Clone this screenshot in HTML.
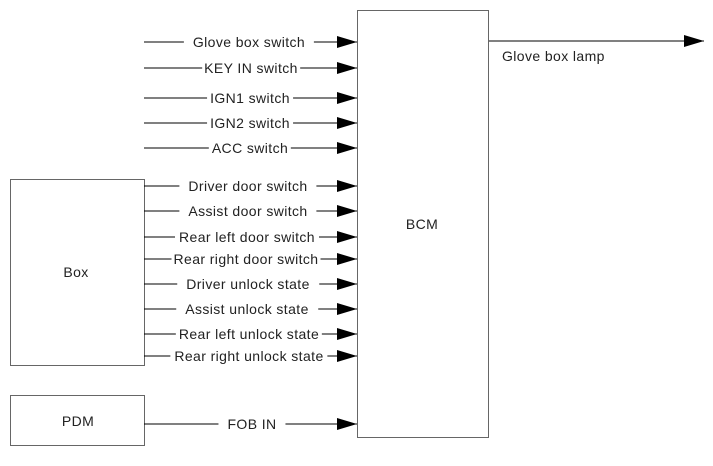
<!DOCTYPE html>
<html><head><style>
body{margin:0;background:#fff}
#w{position:relative;width:713px;height:466px;overflow:hidden}
svg{display:block;position:absolute;left:0;top:0}
.l{position:absolute;transform:translate(-50%,-50%);background:#fff;white-space:nowrap;font:14px "Liberation Sans",Arial,sans-serif;letter-spacing:0.4px;color:#222;line-height:16px}
</style></head><body><div id="w">
<svg width="713" height="466" xmlns="http://www.w3.org/2000/svg" font-family="Liberation Sans, Arial, sans-serif" font-size="14" letter-spacing="0.4">
<defs><marker id="a" markerWidth="20" markerHeight="12" refX="20" refY="6" orient="auto" markerUnits="userSpaceOnUse"><path d="M0,0 L20,6 L0,12 z" fill="#000"/></marker></defs>
<g fill="none" stroke="#666" stroke-width="1">
<rect x="357.5" y="10.5" width="131" height="427"/>
<rect x="10.5" y="179.5" width="134" height="186"/>
<rect x="10.5" y="395.5" width="134" height="50"/>
</g>
<g stroke="#000" stroke-width="1" marker-end="url(#a)">
<line x1="144" y1="42" x2="357" y2="42"/>
<line x1="144" y1="68" x2="357" y2="68"/>
<line x1="144" y1="98" x2="357" y2="98"/>
<line x1="144" y1="123" x2="357" y2="123"/>
<line x1="144" y1="148" x2="357" y2="148"/>
<line x1="144" y1="186" x2="357" y2="186"/>
<line x1="144" y1="211" x2="357" y2="211"/>
<line x1="144" y1="237" x2="357" y2="237"/>
<line x1="144" y1="259" x2="357" y2="259"/>
<line x1="144" y1="284" x2="357" y2="284"/>
<line x1="144" y1="309" x2="357" y2="309"/>
<line x1="144" y1="334" x2="357" y2="334"/>
<line x1="144" y1="356" x2="357" y2="356"/>
<line x1="144" y1="424" x2="357" y2="424"/>
<line x1="489" y1="41" x2="704" y2="41"/>
</g>
<g fill="#222" dominant-baseline="central">
<text x="502" y="56">Glove box lamp</text>
<text x="76" y="272" text-anchor="middle">Box</text>
<text x="78" y="421" text-anchor="middle">PDM</text>
<text x="422" y="224" text-anchor="middle">BCM</text>
</g>
</svg>
<div class="l" style="left:249px;top:42px;padding:0 9px">Glove box switch</div>
<div class="l" style="left:251px;top:68px;padding:0 2px">KEY IN switch</div>
<div class="l" style="left:250px;top:98px;padding:0 3px">IGN1 switch</div>
<div class="l" style="left:250px;top:123px;padding:0 3px">IGN2 switch</div>
<div class="l" style="left:250px;top:148px;padding:0 3px">ACC switch</div>
<div class="l" style="left:248px;top:186px;padding:0 9px">Driver door switch</div>
<div class="l" style="left:248px;top:211px;padding:0 9px">Assist door switch</div>
<div class="l" style="left:247px;top:237px;padding:0 4px">Rear left door switch</div>
<div class="l" style="left:246px;top:259px;padding:0 2px">Rear right door switch</div>
<div class="l" style="left:248px;top:284px;padding:0 9px">Driver unlock state</div>
<div class="l" style="left:247px;top:309px;padding:0 9px">Assist unlock state</div>
<div class="l" style="left:249px;top:334px;padding:0 3px">Rear left unlock state</div>
<div class="l" style="left:249px;top:356px;padding:0 4px">Rear right unlock state</div>
<div class="l" style="left:252px;top:424px;padding:0 9px">FOB IN</div>
</div></body></html>
